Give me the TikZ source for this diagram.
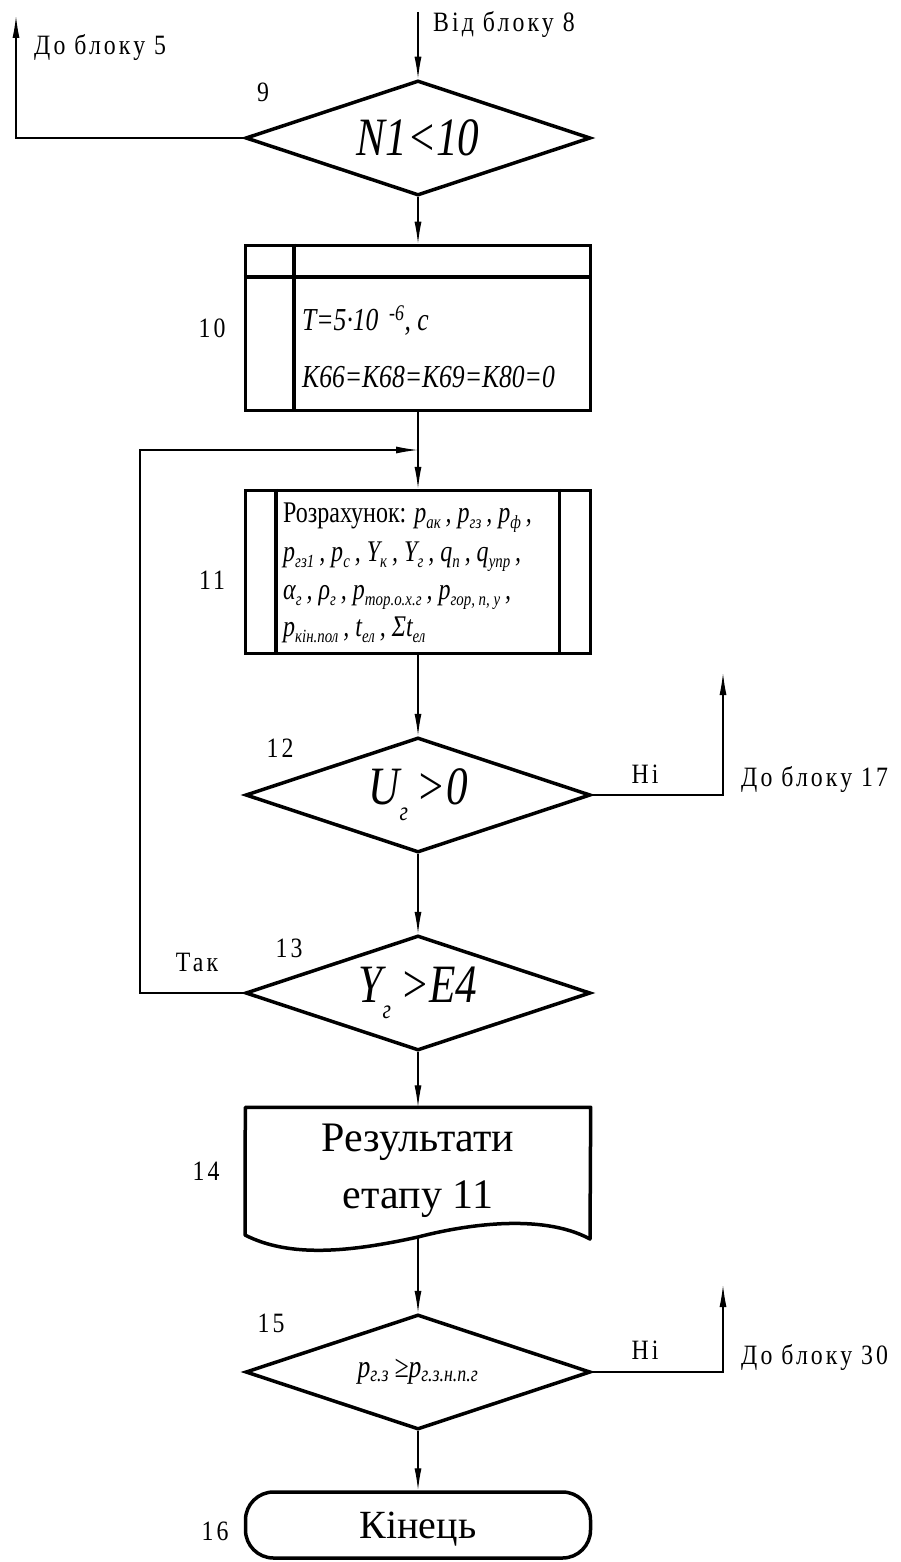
\documentclass[tikz,border=0pt]{standalone}
\usepackage{fontspec}
\setmainfont{Liberation Serif}
\newfontfamily\vuzkyi[FakeStretch=0.8]{Liberation Serif}
\newfontfamily\pidpys[FakeStretch=0.85,LetterSpace=11]{Liberation Serif}
\usetikzlibrary{shapes.geometric,arrows.meta,positioning,calc}
\newcommand{\nyz}[1]{\raisebox{-0.3em}{\scalebox{0.5}{#1}}}
\newcommand{\nyzr}[1]{\raisebox{-0.2em}{\scalebox{0.62}{#1}}}

\begin{document}
\begin{tikzpicture}[x=1pt,y=-1pt,
    blok/.style     = {draw,line width=3.5pt,inner sep=0pt},
    rishennya/.style= {blok,diamond,aspect=3,minimum width=345pt,minimum height=115pt},
    strilka/.style  = {-{Latex[length=22pt,width=7pt]},line width=1.2pt},
    pidpys/.style   = {font=\pidpys\fontsize{28}{30}\selectfont,inner sep=0pt},
    umova/.style    = {font=\vuzkyi\itshape\fontsize{54}{58}\selectfont},
    formula/.style  = {font=\vuzkyi\itshape\fontsize{32}{36}\selectfont,inner sep=0pt,anchor=base west},
    ryadok/.style   = {font=\vuzkyi\fontsize{30}{32}\selectfont,inner sep=0pt,anchor=base west},
    velykyi/.style  = {font=\fontsize{42}{57}\selectfont,align=center},
  ]
  \useasboundingbox (0,0) rectangle (901,1562);

  % ── Блоки ─────────────────────────────────────────────────────────────────
  \node[rishennya,umova] (b9)  at (418,138) {N1<10};
  \node[blok,minimum width=345pt,minimum height=165pt] (b10) at (418,328) {};
  \node[blok,minimum width=345pt,minimum height=163pt] (b11) at (418,572) {};
  \node[rishennya,umova] (b12) at (418,795) {U\nyz{г}\,>0};
  \node[rishennya,umova] (b13) at (418,993) {Y\nyz{г}\,>E4};
  \node[velykyi,minimum width=345pt,minimum height=127pt,inner sep=0pt] (b14) at (418,1171)
       {Результати\\етапу 11};
  \node[rishennya,font=\vuzkyi\itshape\fontsize{32}{34}\selectfont] (b15) at (418,1372)
       {p\textsubscript{г.з}\,≥p\textsubscript{г.з.н.п.г}};
  \node[blok,rounded corners=28pt,minimum width=345pt,minimum height=66pt,text depth=0pt,
        font=\fontsize{40}{44}\selectfont] (b16) at (418,1525) {Кінець};

  % ── Внутрішні лінії блоків 10 і 11 ────────────────────────────────────────
  \draw[line width=3.5pt] ([yshift=-33pt]b10.north west) -- ([yshift=-33pt]b10.north east);
  \draw[line width=3.5pt] ([xshift=50pt]b10.north west) -- ([xshift=50pt]b10.south west);
  \draw[line width=3.5pt] ([xshift=32pt]b11.north west) -- ([xshift=32pt]b11.south west);
  \draw[line width=3.5pt] ([xshift=-33pt]b11.north east) -- ([xshift=-33pt]b11.south east);

  % ── Документ (блок 14) ────────────────────────────────────────────────────
  \coordinate (b14dno) at (418,1237);
  \draw[line width=3.5pt,line join=round]
    (b14.north west) -- (b14.north east) -- (590,1239)
    .. controls (540,1212) and (460,1226) .. (b14dno)
    .. controls (350,1252) and (290,1258) .. (245,1235) -- cycle;

  % ── Тексти блоків 10 і 11 ─────────────────────────────────────────────────
  \node[formula] (t10a) at (302,330) {T=5·10\,\,\textsuperscript{-6}, c};
  \node[formula] (t10b) at (302,387) {K66=K68=K69=K80=0};
  \node[ryadok] (r1) at (283,522) {Розрахунок:
     \itshape p\nyzr{ак}\,, p\nyzr{гз}\,, p\nyzr{ф}\,,};
  \node[ryadok] (r2) at (283,561) {\itshape p\nyzr{гз1}\,, p\nyzr{c}\,,
     Y\nyzr{к}\,, Y\nyzr{г}\,, q\nyzr{п}\,, q\nyzr{упр}\,,};
  \node[ryadok] (r3) at (283,599) {\itshape α\nyzr{г}\,, ρ\nyzr{г}\,,
     p\nyzr{тор.о.х.г}\,, p\nyzr{гор, п, у}\,,};
  \node[ryadok] (r4) at (283,636) {\itshape p\nyzr{кін.пол}\,, t\nyzr{ел}\,,
     Σt\nyzr{ел}};

  % ── Номери блоків ─────────────────────────────────────────────────────────
  \foreach \n/\x/\y in {9/263/92, 10/212/328, 11/212/580, 12/280/748,
                        13/289/948, 14/206/1171, 15/271/1323, 16/215/1531}
    \node[pidpys] (n\n) at (\x,\y) {\n};

  % ── Зв'язки ───────────────────────────────────────────────────────────────
  \coordinate (vid8) at (418,12);
  \coordinate (do5)  at (16,16);
  \coordinate (povtor) at (140,450);
  \coordinate (vuzol)  at (418,450);
  \coordinate (do17) at (723,673);
  \coordinate (do30) at (723,1285);

  \draw[strilka] (vid8) -- (b9.north);
  \draw[strilka] (b9.west) -| (do5);
  \draw[strilka] (b9.south) -- (b10.north);
  \draw[strilka] (b10.south) -- (b11.north);
  \draw[strilka] (b11.south) -- (b12.north);
  \draw[strilka] (b12.east) -| (do17);
  \draw[strilka] (b12.south) -- (b13.north);
  \draw[strilka] (b13.west) -| (povtor) -- (vuzol);
  \draw[strilka] (b13.south) -- (b14.north);
  \draw[strilka] (b14dno) -- (b15.north);
  \draw[strilka] (b15.east) -| (do30);
  \draw[strilka] (b15.south) -- (b16.north);

  % ── Підписи ───────────────────────────────────────────────────────────────
  \node[pidpys,anchor=base west] (tvid8) at (433,32)   {Від блоку 8};
  \node[pidpys,anchor=base west] (tdo5)  at (34,55)    {До блоку 5};
  \node[pidpys] (tni12) at (645,774)  {Ні};
  \node[pidpys,anchor=base west] (tdo17) at (741,786)  {До блоку 17};
  \node[pidpys] (ttak)  at (197,962)  {Так};
  \node[pidpys] (tni15) at (645,1350) {Ні};
  \node[pidpys,anchor=base west] (tdo30) at (741,1364) {До блоку 30};

\end{tikzpicture}
\end{document}
